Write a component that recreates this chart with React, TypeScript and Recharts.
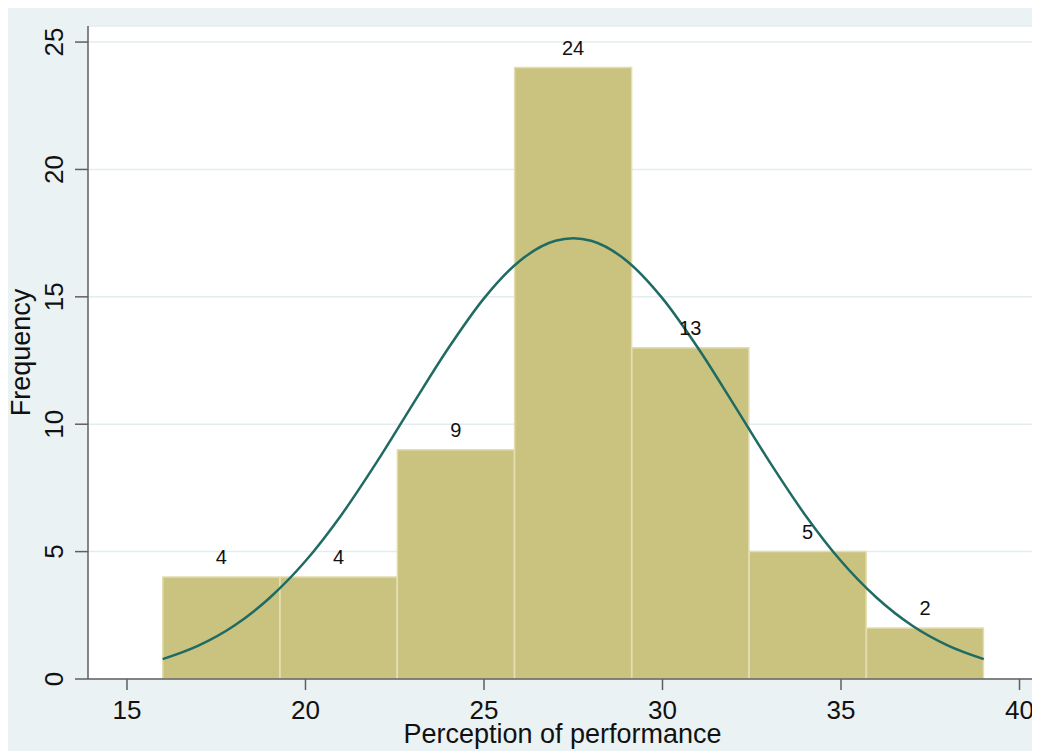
import React from 'react';
import {
  ComposedChart,
  Bar,
  Line,
  XAxis,
  YAxis,
  CartesianGrid,
  LabelList,
} from 'recharts';

// histogram bins (edges) and frequencies
const binEdges = [16, 19.29, 22.57, 25.86, 29.14, 32.43, 35.71, 39];
const counts = [4, 4, 9, 24, 13, 5, 2];

// normal density overlay (frequency scale)
const curveX = [16, 17, 18, 19, 20, 21, 22, 23, 24, 25, 26, 27, 27.5, 28, 29, 30, 31, 32, 33, 34, 35, 36, 37, 38, 39];
const curveY = [0.78, 1.31, 2.09, 3.19, 4.63, 6.43, 8.52, 10.77, 12.98, 14.94, 16.41, 17.2, 17.3, 17.2, 16.41, 14.94, 12.98, 10.77, 8.52, 6.43, 4.63, 3.19, 2.09, 1.31, 0.78];

const xTicks = [15, 20, 25, 30, 35, 40];
const yTicks = [0, 5, 10, 15, 20, 25];

const X_DOMAIN: [number, number] = [13.908, 40.49];
const Y_DOMAIN: [number, number] = [0, 25.63];

const FONT = '"Liberation Sans", Arial, sans-serif';
const AXIS = '#5f5f5f';

const barData = counts.map((count, i) => ({
  mid: (binEdges[i] + binEdges[i + 1]) / 2,
  count,
}));

const curveData = curveX.map((x, i) => ({ x, y: curveY[i] }));

const XTick = (props: any) => {
  const { x, y, payload } = props;
  return (
    <text x={x} y={y + 29} textAnchor="middle" fontSize={26} fontFamily={FONT} fill="#111">
      {payload.value}
    </text>
  );
};

const YTick = (props: any) => {
  const { x, y, payload } = props;
  const tx = x - 12;
  return (
    <text
      x={tx}
      y={y}
      transform={`rotate(-90, ${tx}, ${y})`}
      textAnchor="middle"
      fontSize={26}
      fontFamily={FONT}
      fill="#111"
    >
      {payload.value}
    </text>
  );
};

export default function App() {
  return (
    <div style={{ width: 1032, height: 743, background: '#eaf2f3', fontFamily: FONT }}>
      <ComposedChart
        width={1032}
        height={743}
        data={barData}
        barCategoryGap={0}
        margin={{ top: 18, right: 3, left: 0, bottom: 0 }}
      >
        <CartesianGrid
          xAxisId="curve"
          vertical={false}
          stroke="#e2edf0"
          strokeWidth={1.5}
          fill="#ffffff"
        />
        <XAxis
          xAxisId="curve"
          type="number"
          dataKey="x"
          domain={X_DOMAIN}
          ticks={xTicks}
          allowDataOverflow
          height={72}
          tickSize={11}
          tickMargin={0}
          tick={<XTick />}
          axisLine={{ stroke: AXIS, strokeWidth: 1.5 }}
          tickLine={{ stroke: AXIS, strokeWidth: 1.5 }}
          label={{
            value: 'Perception of performance',
            position: 'insideBottom',
            offset: 8,
            fontSize: 27,
            fontFamily: FONT,
            fill: '#111',
          }}
        />
        <XAxis
          xAxisId="bins"
          type="number"
          dataKey="mid"
          domain={X_DOMAIN}
          ticks={binEdges}
          allowDataOverflow
          height={0}
          hide
        />
        <YAxis
          type="number"
          domain={Y_DOMAIN}
          ticks={yTicks}
          allowDataOverflow
          width={80}
          tickSize={13}
          tickMargin={0}
          tick={<YTick />}
          axisLine={{ stroke: AXIS, strokeWidth: 1.5 }}
          tickLine={{ stroke: AXIS, strokeWidth: 1.5 }}
          label={{
            value: 'Frequency',
            angle: -90,
            position: 'insideLeft',
            offset: 12,
            fontSize: 27,
            fontFamily: FONT,
            fill: '#111',
            style: { textAnchor: 'middle' },
          }}
        />
        <Bar
          xAxisId="bins"
          dataKey="count"
          fill="#cac27f"
          stroke="#e3ddb1"
          strokeWidth={1.5}
          isAnimationActive={false}
        >
          <LabelList
            dataKey="count"
            position="top"
            offset={13}
            fontSize={20}
            fontFamily={FONT}
            fill="#111"
          />
        </Bar>
        <Line
          xAxisId="curve"
          data={curveData}
          dataKey="y"
          type="monotone"
          stroke="#1f6b63"
          strokeWidth={2.5}
          dot={false}
          isAnimationActive={false}
        />
      </ComposedChart>
    </div>
  );
}
